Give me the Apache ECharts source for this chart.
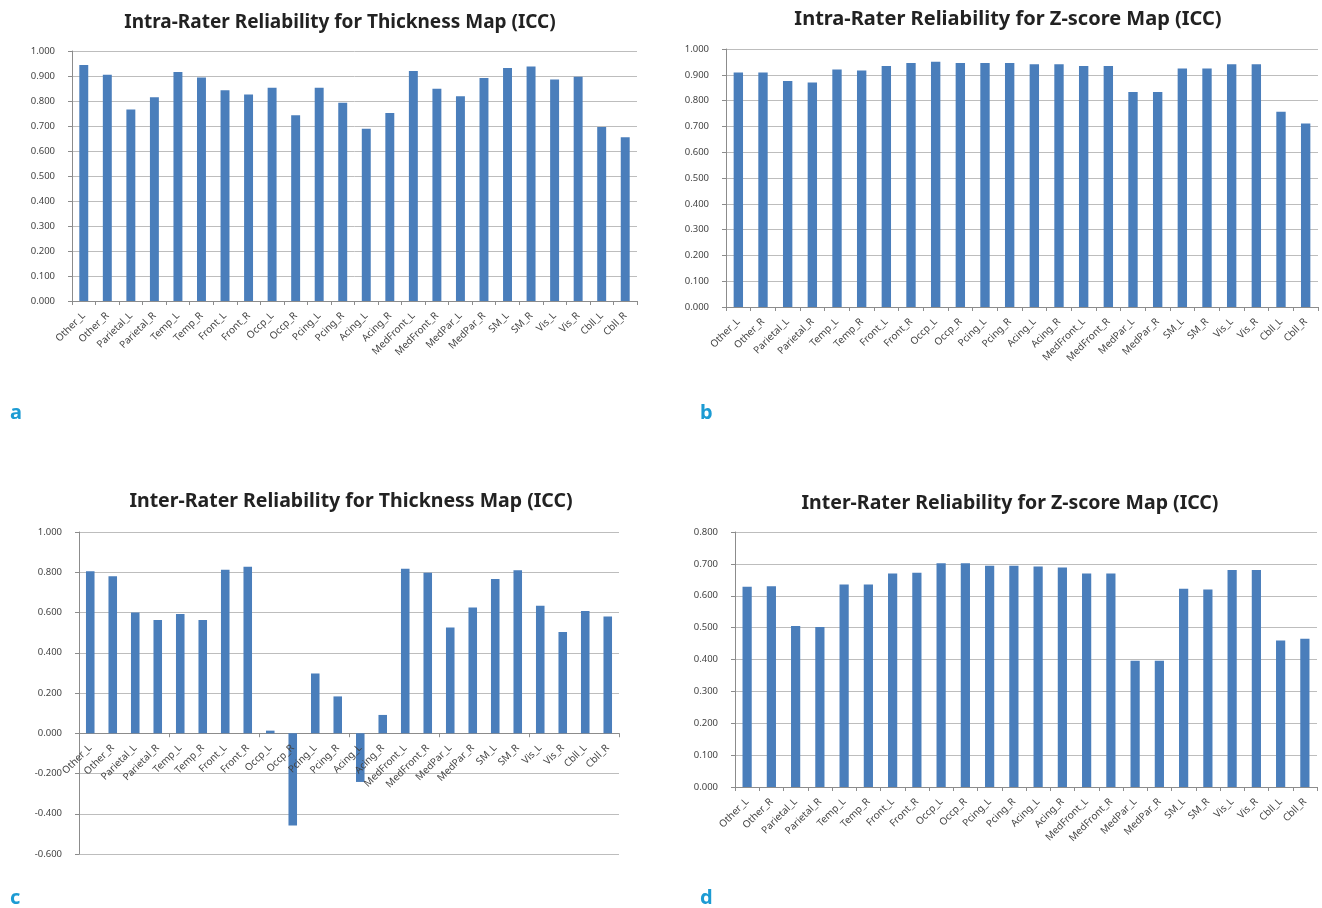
<!DOCTYPE html>
<html>
<head>
<meta charset="utf-8">
<script src="https://cdn.jsdelivr.net/npm/echarts@6/dist/echarts.min.js"></script>
<style>
  html, body { margin: 0; padding: 0; background: #fff; }
  #chart { width: 1322px; height: 908px; }
</style>
</head>
<body>
<div id="chart"></div>
<script>
const regions = ['Other_L','Other_R','Parietal_L','Parietal_R','Temp_L','Temp_R','Front_L','Front_R',
  'Occp_L','Occp_R','Pcing_L','Pcing_R','Acing_L','Acing_R','MedFront_L','MedFront_R',
  'MedPar_L','MedPar_R','SM_L','SM_R','Vis_L','Vis_R','Cbll_L','Cbll_R'];

const intraThickness = [0.944,0.905,0.766,0.815,0.916,0.894,0.843,0.826,0.853,0.743,0.853,0.793,
  0.689,0.752,0.920,0.849,0.819,0.892,0.932,0.938,0.886,0.897,0.696,0.655];
const intraZscore = [0.909,0.909,0.876,0.870,0.921,0.917,0.934,0.946,0.951,0.946,0.946,0.946,
  0.941,0.941,0.934,0.934,0.833,0.833,0.924,0.924,0.941,0.941,0.757,0.711];
const interThickness = [0.805,0.780,0.600,0.563,0.592,0.563,0.813,0.827,0.013,-0.458,0.297,0.183,
  -0.242,0.091,0.818,0.797,0.525,0.625,0.767,0.810,0.633,0.503,0.608,0.580];
const interZscore = [0.628,0.630,0.505,0.502,0.635,0.635,0.670,0.672,0.702,0.702,0.694,0.694,
  0.692,0.689,0.670,0.670,0.396,0.396,0.622,0.620,0.681,0.681,0.460,0.465];

const titles = [
  'Intra-Rater Reliability for Thickness Map (ICC)',
  'Intra-Rater Reliability for Z-score Map (ICC)',
  'Inter-Rater Reliability for Thickness Map (ICC)',
  'Inter-Rater Reliability for Z-score Map (ICC)'
];
const panelLetters = ['a','b','c','d'];
// y-axis ranges per panel: [min, max, interval]
const yRanges = [[0, 1, 0.1], [0, 1, 0.1], [-0.6, 1, 0.2], [0, 0.8, 0.1]];

const grids = [
  { left: 72, top: 51, width: 565, height: 250 },
  { left: 726, top: 49, width: 592, height: 258 },
  { left: 79, top: 532, width: 540, height: 322 },
  { left: 735, top: 532, width: 582, height: 255 }
];
const titlePos = [[335, 8], [1003, 4], [346, 486], [1005, 488]];
const titleSize = [19, 20, 19.5, 19.5];
const letterPos = [[10, 403], [700, 403], [10, 888], [700, 888]];
const dataSets = [intraThickness, intraZscore, interThickness, interZscore];

const labelFont = 'Noto Sans';
const axisGray = '#8c8c8c';
const el = document.getElementById('chart');
const chart = echarts.init(el);

const xLabel = { interval: 0, rotate: 45, fontSize: 10, fontFamily: labelFont, color: '#444', margin: 13 };

const xAxes = grids.map((g, i) => ({
  type: 'category',
  gridIndex: i,
  data: regions,
  axisLine: { onZero: true, lineStyle: { color: axisGray } },
  axisTick: { show: true, alignWithLabel: false, length: 4, lineStyle: { color: axisGray } },
  axisLabel: i === 2 ? { show: false } : xLabel
}));
// panel c: category labels sit at the zero line, drawn over the bars
const zeroOffset = grids[2].height * (yRanges[2][0] / (yRanges[2][1] - yRanges[2][0]));
xAxes.push({
  type: 'category',
  gridIndex: 2,
  data: regions,
  position: 'bottom',
  offset: zeroOffset,
  z: 5,
  axisLine: { show: false, onZero: false },
  axisTick: { show: false },
  axisLabel: xLabel
});

chart.setOption({
  animation: false,
  title: titles.map((t, i) => ({
    text: t,
    left: titlePos[i][0],
    top: titlePos[i][1],
    textAlign: 'center',
    textStyle: { fontFamily: labelFont, fontWeight: 'bold', fontSize: titleSize[i], color: '#222' }
  })),
  graphic: panelLetters.map((l, i) => ({
    type: 'text',
    left: letterPos[i][0],
    top: letterPos[i][1],
    style: { text: l, fill: '#1c9bd3', font: 'bold 20px "Noto Sans"' }
  })),
  grid: grids,
  xAxis: xAxes,
  yAxis: yRanges.map((r, i) => ({
    type: 'value',
    gridIndex: i,
    min: r[0],
    max: r[1],
    interval: r[2],
    axisLine: { show: true, lineStyle: { color: axisGray } },
    axisTick: { show: true, length: 4, lineStyle: { color: axisGray } },
    splitLine: { lineStyle: { color: '#bdbdbd' } },
    axisLabel: {
      fontSize: 9.5, fontFamily: labelFont, color: '#444', margin: 17,
      formatter: v => (Math.abs(v) < 1e-9 ? 0 : v).toFixed(3)
    }
  })),
  series: dataSets.map((d, i) => ({
    type: 'bar',
    xAxisIndex: i,
    yAxisIndex: i,
    data: d,
    barWidth: '38%',
    itemStyle: { color: '#4a7ebb' }
  }))
});
</script>
</body>
</html>
